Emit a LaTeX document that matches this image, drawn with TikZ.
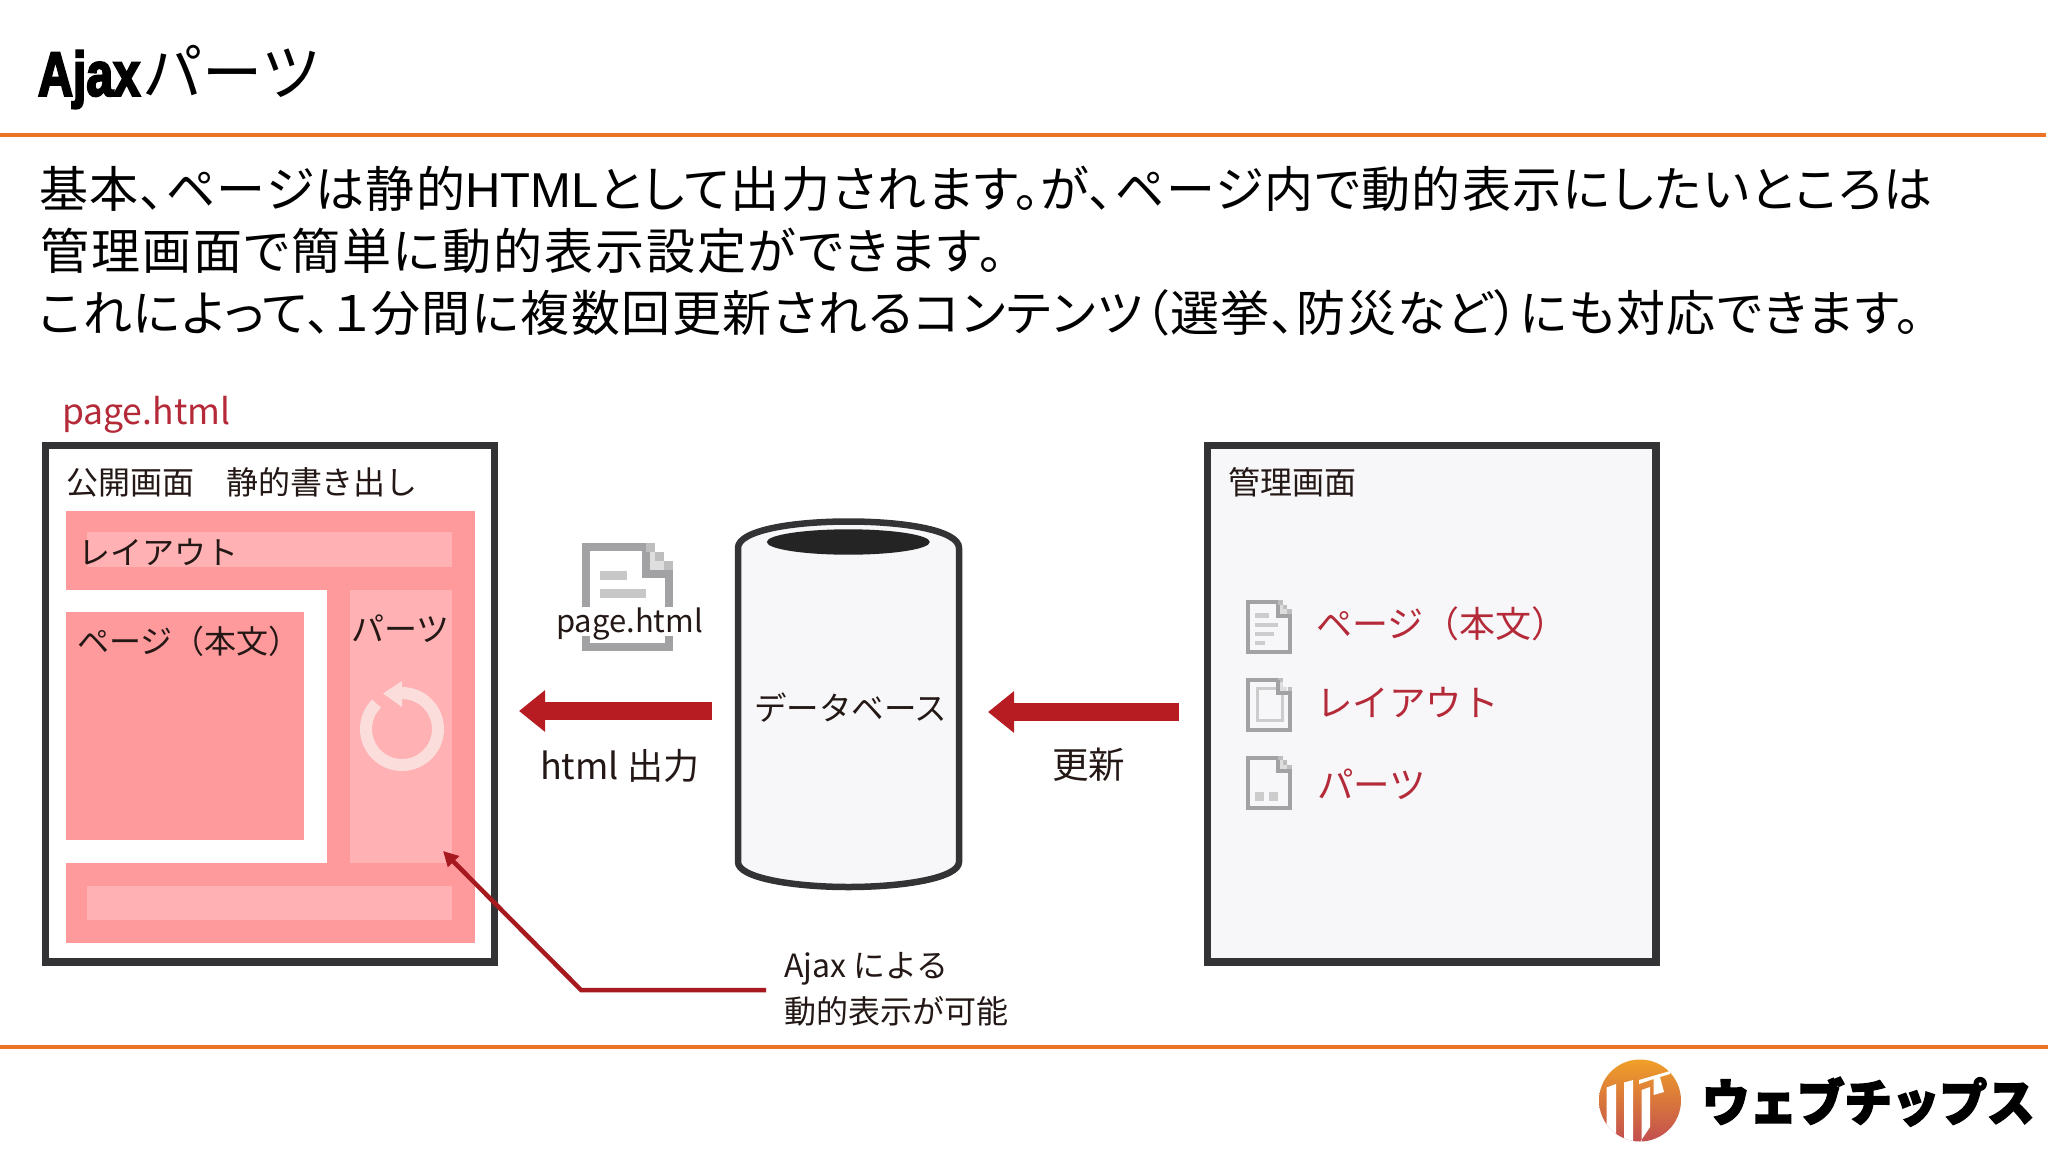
\documentclass[tikz,border=0pt]{standalone}
\usepackage{fontspec}
\usetikzlibrary{arrows.meta}
\setmainfont{Noto Sans CJK JP}
\newfontfamily\jpfont[RawFeature=+palt]{Noto Sans CJK JP}
\newfontfamily\arialfont[BoldFeatures={FakeBold=4}]{Liberation Sans}
\newfontfamily\logofont[BoldFeatures={FakeBold=3.5}]{Noto Sans CJK JP}
\definecolor{pinkbase}{HTML}{FF9A9C}
\definecolor{pinklight}{HTML}{FFB1B4}
\definecolor{ringcol}{HTML}{FBDDDB}
\definecolor{framecol}{HTML}{333335}
\definecolor{panelcol}{HTML}{F7F7F9}
\definecolor{redarrow}{HTML}{B71C22}
\definecolor{redtext}{HTML}{B42A38}
\definecolor{orangeline}{HTML}{EE7324}
\definecolor{docgrey}{HTML}{A2A2A4}
\definecolor{inkcol}{HTML}{231815}
\definecolor{logotop}{HTML}{F0A028}
\definecolor{logomid}{HTML}{F4641A}
\definecolor{logobot}{HTML}{C24E50}
\tikzset{
  fs/.style={font=\fontsize{#1}{#1}\selectfont, text height=0.88*#1 pt, text depth=0.12*#1 pt},
  lbl/.style={inner sep=0pt, outer sep=0pt, anchor=west, text=inkcol},
  redlbl/.style={lbl, text=redtext},
  bodytext/.style={inner sep=0pt, anchor=west, text=black, fs=49},
  rule/.style={draw=orangeline, line width=4pt},
  frame/.style={draw=framecol, line width=7.5pt, miter limit=10},
  blockarrow/.style={draw=redarrow, line width=18pt, -{Triangle[length=26pt,width=40pt]}},
  thinarrow/.style={draw=redarrow!90!black, line width=4.5pt, -{Triangle[length=15pt,width=15pt]}},
  docline/.style={draw=docgrey},
}
\newcommand{\docicon}[4]{% x, y, scale, inner drawing
  \begin{scope}[shift={(#1,#2)},x=#3pt,y=-#3pt]
    \draw[docline,line width=#3*4pt] (2,2) -- (32,2) -- (32,15.5) -- (43.7,15.5) -- (43.7,52) -- (2,52) -- cycle;
    \fill[docgrey!70] (32,0) rectangle (36.5,4.7);
    \fill[docgrey!70] (36.5,4.7) rectangle (41,9);
    \fill[docgrey!70] (41,9) rectangle (45.7,13.7);
    \fill[docgrey!35] (34,4.7) rectangle (36.5,13.5);
    \fill[docgrey!35] (36.5,9) rectangle (41,13.5);
    #4
  \end{scope}}
\begin{document}
\begin{tikzpicture}[x=1pt,y=-1pt]
\path[use as bounding box,fill=white] (0,0) rectangle (2048,1152);

% header
\node[lbl,fs=62,text=black] (title) at (38,72) {{\arialfont\bfseries\scalebox{0.78}[1]{Ajax}}\hspace{2pt}\scalebox{0.97}[1]{パーツ}};
\coordinate (ruleTopL) at (0,135);
\coordinate (ruleTopR) at (2046,135);
\draw[rule] (ruleTopL) -- (ruleTopR);
\coordinate (ruleBotL) at (0,1046.5);
\coordinate (ruleBotR) at (2048,1046.5);
\draw[rule] (ruleBotL) -- (ruleBotR);

% body
\node[bodytext] (line1) at (39,189) {\jpfont\addfontfeature{LetterSpace=2.9}基本、ページは静的{\arialfont HTML}として出力されます。が、ページ内で動的表示にしたいところは};
\node[bodytext] (line2) at (40,251) {\jpfont\addfontfeature{LetterSpace=4}管理画面で簡単に動的表示設定ができます。};
\node[bodytext] (line3) at (39,313) {\jpfont\addfontfeature{LetterSpace=2.9}これによって、１分間に複数回更新されるコンテンツ（選挙、防災など）にも対応できます。};

% public screen
\node[redlbl,fs=35.5] (pagename) at (62,411) {page.html};
\draw[frame,fill=white] (45.7,445.7) rectangle (494.3,962);
\fill[pinkbase] (65.6,510.5) rectangle (475,943);
\fill[pinklight] (87,532) rectangle (452,567);
\fill[white] (65.6,589.6) rectangle (327,863);
\fill[pinkbase] (65.6,612) rectangle (304,840);
\fill[pinklight] (350,589.6) rectangle (452,863);
\fill[pinklight] (87,886) rectangle (452,920);
\draw[ringcol,line width=12pt] (402,693) arc[start angle=-90,end angle=225,radius=36];
\fill[ringcol] (383,693.5) -- (402,681) -- (402,707) -- cycle;
\node[lbl,fs=32] (public) at (66,482) {公開画面　静的書き出し};
\node[lbl,fs=32] (layoutA) at (78,552.5) {レイアウト};
\node[lbl,fs=32] (pageA) at (77,641) {ページ（本文）};
\node[lbl,fs=33] (partsA) at (351,629) {パーツ};

% document icon
\docicon{581.7}{543}{2}{%
  \fill[docgrey!60] (9,14) rectangle (22.5,18.5);
  \fill[docgrey!60] (9,23) rectangle (32,27.5);
  \fill[docgrey!60] (9,32) rectangle (26,36.5);
}
\fill[white] (560,607) rectangle (700,636);
\node[lbl,fs=31] (filename) at (556,621) {page.html};

% arrows
\coordinate (arrowAstart) at (712,711);
\coordinate (arrowAtip) at (519,711);
\draw[blockarrow] (arrowAstart) -- (arrowAtip);
\node[lbl,fs=36] (htmlout) at (540,766) {html 出力};
\coordinate (arrowBstart) at (1179,712);
\coordinate (arrowBtip) at (988,712);
\draw[blockarrow] (arrowBstart) -- (arrowBtip);
\node[lbl,fs=36.5] (update) at (1052,765) {更新};

% database
\draw[draw=framecol,line width=6.5pt,fill=panelcol]
  (738,862) -- (738,548)
  .. controls (738,530) and (794,521.5) .. (848.5,521.5)
  .. controls (903,521.5) and (959,530) .. (959,548)
  -- (959,862)
  .. controls (959,878) and (903,887) .. (848.5,887)
  .. controls (794,887) and (738,878) .. (738,862) -- cycle;
\fill[framecol!70!black] (848.3,542) ellipse[x radius=81.5,y radius=12.7];
\node[lbl,fs=32.5] (db) at (754,708.6) {データベース};

% admin screen
\draw[frame,fill=panelcol] (1207.7,445.7) rectangle (1656,962);
\node[lbl,fs=32] (admin) at (1228,482) {管理画面};
\docicon{1246}{600}{1}{%
  \fill[docgrey!55] (9,13) rectangle (23,18);
  \fill[docgrey!55] (9,23) rectangle (32,27);
  \fill[docgrey!55] (9,32) rectangle (27.5,36);
  \fill[docgrey!55] (9,41) rectangle (19,45);
}
\docicon{1246}{677.5}{1}{%
  \draw[docgrey!55,line width=3pt] (11,11) rectangle (36.5,43);
  \draw[docline,line width=4pt] (32,2) -- (32,15.5) -- (43.7,15.5);
  \fill[panelcol] (34,4) rectangle (42,13.5);
  \fill[docgrey!35] (34,4.7) rectangle (36.5,13.5);
  \fill[docgrey!35] (36.5,9) rectangle (41,13.5);
}
\docicon{1246}{755.5}{1}{%
  \fill[docgrey!55] (9,36) rectangle (18,45);
  \fill[docgrey!55] (23,36) rectangle (32,45);
}
\node[redlbl,fs=36] (pageB) at (1316,624) {ページ（本文）};
\node[redlbl,fs=36.5] (layoutB) at (1316,702.7) {レイアウト};
\node[redlbl,fs=36.5] (partsB) at (1317,784.5) {パーツ};

% ajax callout
\coordinate (calloutStart) at (766,990);
\coordinate (calloutBend) at (581,990);
\coordinate (calloutTip) at (443,851);
\draw[thinarrow] (calloutStart) -- (calloutBend) -- (calloutTip);
\node[lbl,fs=32] (ajaxA) at (784,965.6) {Ajax による};
\node[lbl,fs=32] (ajaxB) at (784,1011) {動的表示が可能};

% logo
\begin{scope}
  \clip (1640,1100.5) circle[radius=41];
  \shade[top color=logotop,middle color=logomid,bottom color=logobot] (1599,1059) rectangle (1681,1142);
  \fill[white] (1606.5,1087.5) -- (1616,1084) -- (1616,1150) -- (1606.5,1150) -- cycle;
  \fill[white] (1624,1082.5) -- (1633,1080) -- (1633,1150) -- (1624,1150) -- cycle;
  \fill[white] (1641.5,1090) -- (1650,1087) -- (1650,1127) -- (1640,1142) -- (1641.5,1142) -- cycle;
  \fill[white] (1639,1080) -- (1670,1071) -- (1670,1074) -- (1660,1077) -- (1664,1092) -- (1653.5,1095) -- (1653.5,1079) -- (1639,1084) -- cycle;
\end{scope}
\node[lbl,fs=50,text=black] (logotext) at (1702,1102) {\logofont\bfseries\scalebox{0.95}[1]{ウェブチップス}};
\end{tikzpicture}
\end{document}
